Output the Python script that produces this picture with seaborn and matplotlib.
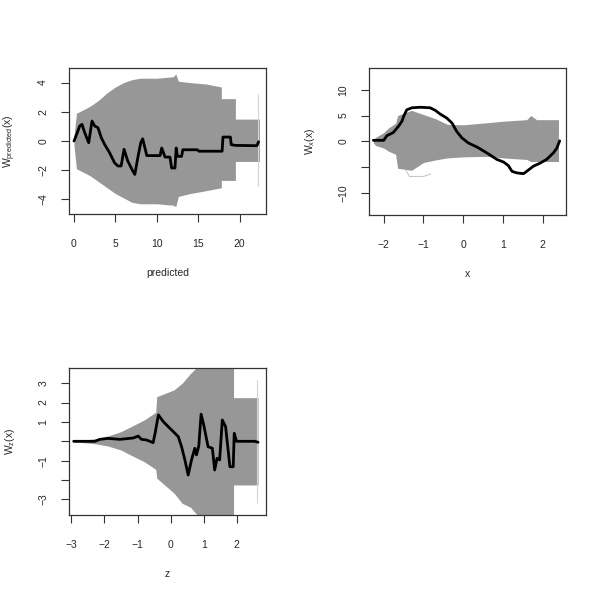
import numpy as np
import pandas as pd
import matplotlib
matplotlib.use("Agg")
import matplotlib.pyplot as plt
import seaborn as sns

# observed cumulative residual process (black) and envelope of simulated paths (gray)
pred_x = [0.0, 0.08, 0.7, 0.97, 1.3, 1.78, 2.18, 2.5, 2.9, 3.3, 3.7, 4.3, 4.9, 5.3, 5.7, 6.05,
          6.5, 7.1, 7.35, 7.75, 8.07, 8.3, 8.8, 10.4, 10.6, 11.0, 11.6, 11.8, 12.2, 12.35,
          12.5, 13.0, 13.15, 14.9, 15.1, 17.9, 18.0, 18.9, 19.0, 19.5, 22.1, 22.3]
pred_w = [0.0, 0.1, 1.03, 1.14, 0.57, -0.12, 1.37, 1.03, 0.91, 0.23, -0.23, -0.8, -1.49, -1.71,
          -1.71, -0.57, -1.37, -2.05, -2.29, -1.03, -0.12, 0.15, -1.0, -1.0, -0.48, -1.1, -1.1,
          -1.85, -1.85, -0.48, -1.05, -1.05, -0.6, -0.6, -0.7, -0.7, 0.27, 0.27, -0.25, -0.3,
          -0.32, -0.05]
pred_env_x = [0.0, 0.3, 1.0, 2.0, 3.0, 4.0, 5.0, 6.0, 7.0, 8.0, 10.0, 12.0, 12.3, 12.6, 14.0,
              16.0, 17.8, 17.8, 19.5, 19.5, 22.4]
pred_env_hi = [0.3, 1.9, 2.1, 2.4, 2.8, 3.3, 3.7, 4.0, 4.2, 4.3, 4.3, 4.4, 4.6, 4.1, 4.0, 3.9,
               3.7, 2.9, 2.9, 1.5, 1.5]
pred_env_lo = [-0.3, -1.9, -2.1, -2.4, -2.8, -3.2, -3.6, -3.9, -4.2, -4.3, -4.3, -4.4, -4.5,
               -3.8, -3.6, -3.4, -3.2, -2.7, -2.7, -1.4, -1.4]
pred_end = [22.25, -3.1, 3.2]

x_x = [-2.26, -2.0, -1.92, -1.76, -1.63, -1.54, -1.5, -1.42, -1.29, -1.08, -0.83, -0.7, -0.58,
       -0.41, -0.28, -0.16, -0.03, 0.13, 0.35, 0.6, 0.85, 1.02, 1.14, 1.23, 1.35, 1.52, 1.6,
       1.77, 1.94, 2.1, 2.27, 2.36, 2.43]
x_w = [0.2, 0.2, 1.1, 1.7, 2.9, 3.9, 4.8, 6.1, 6.5, 6.6, 6.5, 6.0, 5.3, 4.5, 3.55, 1.9, 0.66,
       -0.3, -1.1, -2.25, -3.5, -4.0, -4.7, -5.8, -6.1, -6.25, -5.8, -4.8, -4.2, -3.5, -2.25,
       -1.3, 0.1]
x_env_x = [-2.26, -2.2, -2.0, -1.88, -1.7, -1.65, -1.3, -1.0, -0.7, -0.4, 0.0, 0.6, 1.0, 1.6,
           1.7, 1.85, 2.4]
x_env_hi = [0.3, 0.8, 1.7, 2.6, 3.5, 5.0, 6.0, 5.2, 4.4, 3.3, 3.2, 3.6, 3.9, 4.2, 5.0, 4.2, 4.2]
x_env_lo = [-0.3, -0.8, -1.3, -1.9, -2.5, -5.2, -5.6, -4.1, -3.6, -3.2, -3.0, -2.9, -3.2,
            -3.5, -3.9, -3.9, -3.9]
x_out_x = [-1.45, -1.35, -1.0, -0.82]
x_out_w = [-5.5, -6.8, -6.8, -6.3]

z_x = [-2.93, -2.29, -2.14, -1.89, -1.53, -1.13, -0.98, -0.88, -0.73, -0.53, -0.47, -0.37,
       -0.22, -0.07, 0.08, 0.23, 0.33, 0.43, 0.53, 0.63, 0.73, 0.78, 0.85, 0.92, 1.0, 1.13,
       1.26, 1.33, 1.4, 1.48, 1.56, 1.66, 1.79, 1.89, 1.92, 1.99, 2.54, 2.64]
z_w = [0.0, 0.0, 0.1, 0.15, 0.1, 0.17, 0.27, 0.1, 0.07, -0.07, 0.41, 1.36, 1.01, 0.75, 0.5,
       0.24, -0.28, -0.96, -1.74, -0.96, -0.36, -0.7, -0.24, 1.4, 0.84, -0.28, -0.36, -1.48,
       -0.88, -0.96, 1.1, 0.75, -1.31, -1.31, 0.41, 0.0, 0.0, -0.05]
z_env_x = [-2.93, -2.3, -1.9, -1.5, -1.1, -0.8, -0.45, -0.42, 0.1, 0.35, 0.6, 0.9, 1.9, 1.9,
           2.64]
z_env_hi = [0.03, 0.12, 0.27, 0.5, 0.84, 1.1, 1.5, 2.3, 2.65, 3.0, 3.5, 4.0, 4.0, 2.25, 2.25]
z_env_lo = [-0.03, -0.12, -0.24, -0.45, -0.8, -1.05, -1.45, -1.9, -2.67, -3.2, -3.4, -4.0,
            -4.0, -2.25, -2.25]
z_end = [2.61, -3.2, 3.16]


def panel(ax, xs, ws, ex, ehi, elo, xlim, ylim, xticks, yticks, ylabels, xlab, ylab):
    ax.fill_between(ex, elo, ehi, color="#979797", lw=0, zorder=1)
    df = pd.DataFrame({"x": xs, "w": ws})
    sns.lineplot(data=df, x="x", y="w", sort=False, estimator=None, color="black",
                 lw=2.0, ax=ax, zorder=3)
    ax.set_xlim(xlim)
    ax.set_ylim(ylim)
    ax.set_xticks(xticks)
    ax.set_xticklabels([f"{t:g}".replace("-", "\u2212") for t in xticks])
    ax.set_yticks(yticks)
    ax.set_yticklabels(ylabels)
    ax.tick_params(axis="x", length=6, width=0.8, pad=12, labelsize=7.5, color="#333333")
    ax.tick_params(axis="y", length=6, width=0.8, pad=9, labelsize=7.5,
                   labelrotation=90, color="#333333")
    for lbl in ax.get_yticklabels():
        lbl.set_va("center")
    for s in ax.spines.values():
        s.set_color("#333333")
        s.set_linewidth(0.9)
    ax.set_xlabel(xlab, fontsize=7.5)
    ax.set_ylabel(ylab, fontsize=7.5)
    ax.xaxis.set_label_coords(0.5, -59 / 146)
    ax.xaxis.label.set_va("center")
    ax.yaxis.set_label_coords(-59 / 197, 0.5)
    ax.yaxis.label.set_va("center")


sns.set_style("ticks")
plt.rcParams["font.family"] = ["Liberation Sans", "DejaVu Sans"]
plt.rcParams["mathtext.fontset"] = "custom"
plt.rcParams["mathtext.rm"] = "Liberation Sans"
plt.rcParams["mathtext.it"] = "Liberation Sans"

fig = plt.figure(figsize=(6, 6), dpi=100)
ax1 = fig.add_axes([69 / 600, 1 - 214 / 600, 197 / 600, 146 / 600])
ax2 = fig.add_axes([369 / 600, 1 - 215 / 600, 197 / 600, 147 / 600])
ax3 = fig.add_axes([69 / 600, 1 - 515 / 600, 197 / 600, 147 / 600])

panel(ax1, pred_x, pred_w, pred_env_x, pred_env_hi, pred_env_lo, (-0.6, 23.2), (-5.0, 5.0),
      [0, 5, 10, 15, 20], [-4, -2, 0, 2, 4], ["\u22124", "\u22122", "0", "2", "4"],
      "predicted", r"$\mathrm{W_{predicted}(x)}$")
ax1.vlines(pred_end[0], pred_end[1], pred_end[2], color="#d4d4d4", lw=0.8, zorder=2)

panel(ax2, x_x, x_w, x_env_x, x_env_hi, x_env_lo, (-2.37, 2.59), (-14.25, 14.2),
      [-2, -1, 0, 1, 2], [-10, -5, 0, 5, 10], ["\u221210", "", "0", "5", "10"],
      "x", r"$\mathrm{W_{x}(x)}$")
ax2.plot(x_out_x, x_out_w, color="#c8c8c8", lw=0.8, zorder=2)

panel(ax3, z_x, z_w, z_env_x, z_env_hi, z_env_lo, (-3.07, 2.88), (-3.8, 3.78),
      [-3, -2, -1, 0, 1, 2], [-3, -2, -1, 0, 1, 2, 3],
      ["\u22123", "", "\u22121", "", "1", "2", "3"], "z", r"$\mathrm{W_{z}(x)}$")
ax3.vlines(z_end[0], z_end[1], z_end[2], color="#d4d4d4", lw=0.8, zorder=2)

fig.savefig("out.png", dpi=100)
